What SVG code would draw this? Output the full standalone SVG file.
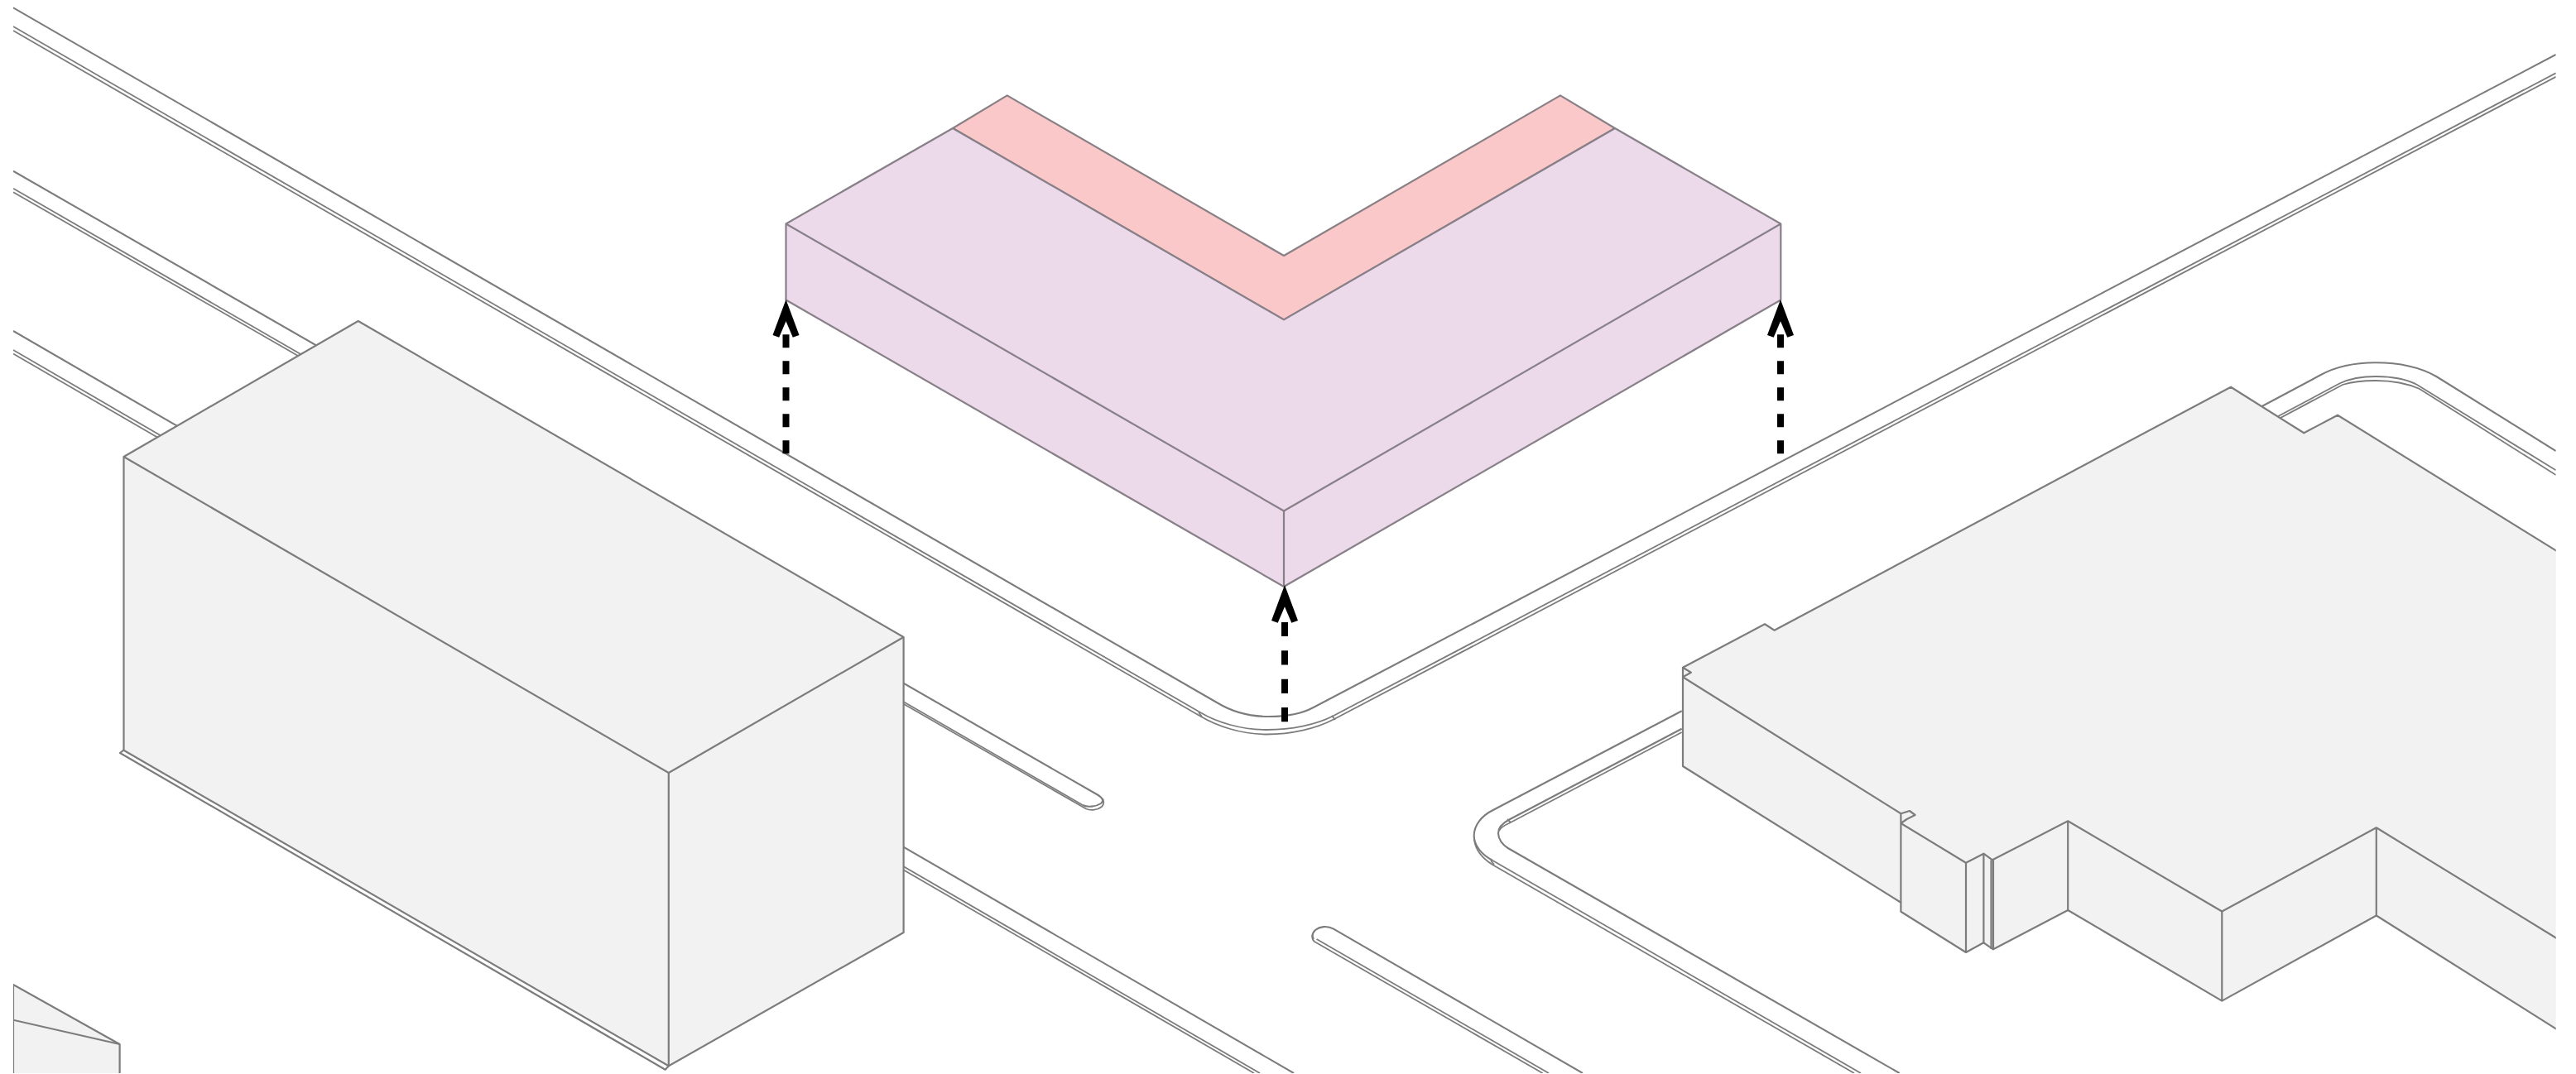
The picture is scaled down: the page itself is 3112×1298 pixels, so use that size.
<svg xmlns="http://www.w3.org/2000/svg" width="3112" height="1298" viewBox="0 0 3112 1298">
<style>
.r{fill:none;stroke:#7c7c7c;stroke-width:2.1}
.t{fill:none;stroke:#7c7c7c;stroke-width:1.8}
.g{fill:#f2f2f2;stroke:#7c7c7c;stroke-width:2.2;stroke-linejoin:round}
.e{fill:none;stroke:#7c7c7c;stroke-width:2.2;stroke-linejoin:round}
.m{fill:#ecd9ea;stroke:#888088;stroke-width:2.2;stroke-linejoin:round}
.p{fill:#fac8c9;stroke:#888085;stroke-width:2.2;stroke-linejoin:round}
.a{fill:none;stroke:#000;stroke-width:8}
</style>
<defs>
<clipPath id="c"><rect x="16" y="0" width="3071.7" height="1297"/></clipPath>
<marker id="h" markerUnits="userSpaceOnUse" viewBox="-5 -20 55 40" markerWidth="55" markerHeight="40" refX="0" refY="0" orient="auto">
<path d="M44.7 0L1.7 16L-1 8.3L18.4 0L-1-8.3L1.7-16Z" fill="#000"/>
</marker>
<marker id="s" markerUnits="userSpaceOnUse" viewBox="-5 -20 55 40" markerWidth="55" markerHeight="40" refX="2.4" refY="0" orient="auto">
<path d="M44.7 0L1.7 16L-1 8.3L18.4 0L-1-8.3L1.7-16Z" fill="#000"/>
</marker>
</defs>
<rect width="3112" height="1298" fill="#fff"/>
<g clip-path="url(#c)">
<g id="roads">
<path class="r" d="M16 9.3L1471.7 850C1490 861 1510 866 1533 866C1552 866 1570 864 1586.7 855L3087.7 66"/>
<path class="t" d="M16 32L1450 861C1470 873 1500 882 1530 882C1560 882 1590 876 1611 865L3087.7 88.3"/>
<path class="t" d="M16 37L1450 865.5C1470 877.5 1500 887.5 1530 887.5C1560 887.5 1590 880.5 1611 869.5L3087.7 92.8"/>
<path class="t" d="M1448 861l4 5M1609 865l4 5"/>
<path class="r" d="M16 206.7L1325 960C1332 964 1334 968 1330 971C1324 975 1314 976 1308 973"/>
<path class="t" d="M16 227.7L1308 973"/>
<path class="t" d="M16 232.2L1312 977.5C1318 980 1326 979 1331 975C1334 972 1334 969 1332 965"/>
<path class="r" d="M16 400L1563 1297"/>
<path class="t" d="M16 423L1522 1297"/>
<path class="t" d="M16 427.5L1515 1297"/>
<path class="r" d="M2031.7 859.3L1803.3 979.3C1790 986 1780.7 997 1780.7 1010C1780.7 1022 1790 1033 1803.3 1040"/>
<path class="t" d="M1803.3 1040L2248 1297"/>
<path class="t" d="M1781 1014C1782 1028 1792 1038 1803 1045L2240 1297"/>
<path class="t" d="M1801 1040l4 5M1821 990l4 4"/>
<path class="r" d="M2031.7 880.7L1823.3 990.5C1813 996 1810 1002 1810 1007C1810 1014 1815 1021 1821.7 1025L2294.7 1297"/>
<path class="t" d="M2031.7 885L1823 995C1816 998 1812 1002 1811 1004"/>
<path class="r" d="M1912 1297L1611 1122.7C1603 1118 1594 1120 1589 1124C1585 1128 1585 1132 1587 1135"/>
<path class="t" d="M1871 1297L1590.6 1135"/>
<path class="t" d="M1863.6 1297L1588 1138C1585 1136 1585 1133 1585.5 1130"/>
<path class="r" d="M2720 497.7L2803.3 453.3C2822 443 2846 438.3 2870 438.3C2895 438.3 2922 443 2943.3 455L3087.7 545"/>
<path class="t" d="M2740 509.5L2826.7 463.3C2840 457 2855 455 2870 455C2888 455 2905 457 2920 465L3087.7 568.3"/>
<path class="t" d="M2740 513L2830 465C2843 461 2857 460 2870 460C2887 460 2905 462 2923 470L3087.7 574"/>
</g>
<g id="tall-building">
<path class="e" d="M149.3 906.7L145 910L803.7 1292.7L807.8 1288.3"/>
<path class="g" d="M149.5 552L432.7 388L1091.6 770L1091.6 1127L807.8 1288.3L149.5 906.7Z"/>
<path class="e" d="M149.5 552L807.8 934L1091.6 770M807.8 934V1288.3"/>
</g>
<g id="corner-building">
<path class="g" d="M16 1190L144.6 1262V1300H16Z"/>
<path class="e" d="M16 1232.7L144.6 1262"/>
</g>
<g id="long-building">
<path class="g" d="M2033 806.7L2132 754.3L2143.6 761.7L2695 467.7L2783.3 523.3L2824 501.7L3100 673V1251L2870.8 1106.5L2684.3 1209.6L2498.2 1100L2408 1147.3L2396.4 1139.3L2375 1151L2296.4 1101.7V1090.7L2033 926Z"/>
<path class="e" d="M2033 806.7L2042.9 812.7L2033 818.3L2296.4 983.3M2296.4 995L2375 1042.7L2396.4 1031.7L2407 1039.3L2498.2 992.3L2684.3 1101.5L2870.8 1000.3L3100 1141"/>
<path class="e" d="M2296.4 1090.7V995M2375 1042.7V1151M2396.4 1031.7V1139.3M2405.5 1039.5V1147M2408 1039.5V1147.3M2498.2 992.3V1100M2684.3 1101.5V1209.6M2870.8 1000.3V1106.5"/>
<path class="e" d="M2296.4 995L2296.4 983.3L2307 980L2313.6 985L2303.6 990L2296.4 995"/>
</g>
</g>
<g id="mass">
<path class="p" d="M1151 155L1216.7 115.4L1551 309L1885 115.4L1951 155L1551 386.4Z"/>
<path class="m" d="M949.5 270.5L1151 155L1551 386.4L1951 155L2151.3 270.5V362.5L1551 709L949.5 362.5Z"/>
<path class="e" style="stroke:#888088" d="M949.5 270.5L1551 617.5L2151.3 270.5M1551 617.5V709"/>
</g>
<g id="connectors">
<path class="a" d="M949.5 548.3V404.3" stroke-dasharray="16 16" marker-end="url(#s)"/>
<path class="a" d="M1552 872.3V751.7" stroke-dasharray="17.2 17.2" marker-end="url(#h)"/>
<path class="a" d="M2151 548.3V404.3" stroke-dasharray="16 16" marker-end="url(#s)"/>
</g>
</svg>
